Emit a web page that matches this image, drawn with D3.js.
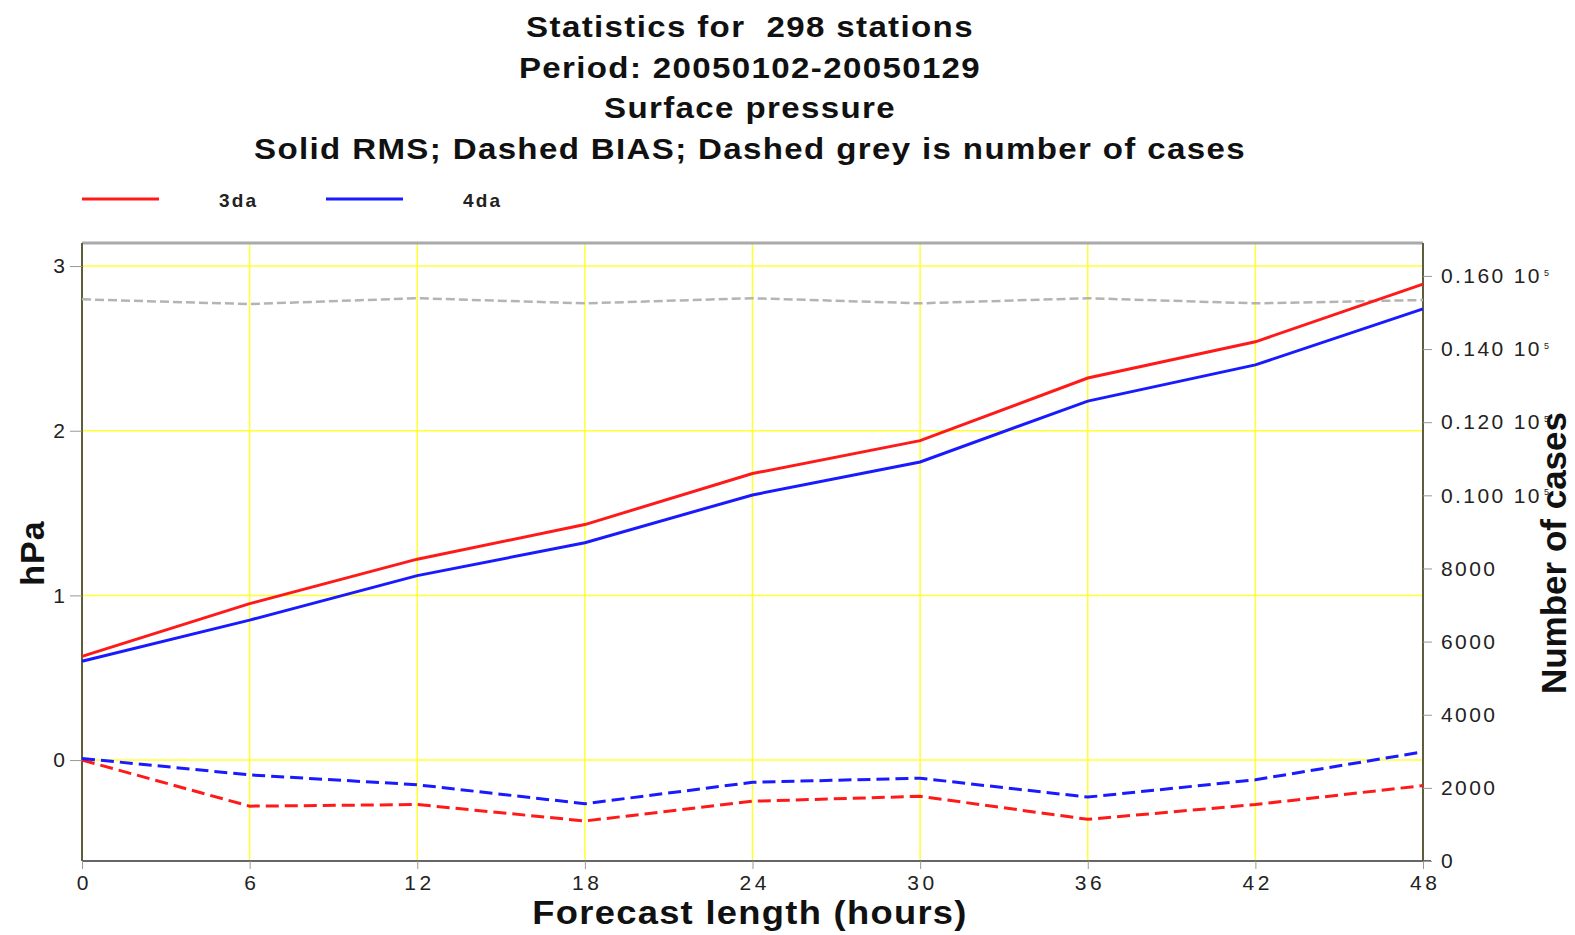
<!DOCTYPE html>
<html>
<head>
<meta charset="utf-8">
<script src="https://cdn.jsdelivr.net/npm/d3@7"></script>
<style>
  html, body { margin: 0; padding: 0; background: #fff; }
  svg { display: block; font-family: "Liberation Sans", Arial, Helvetica, sans-serif; }
  text { white-space: pre; }
</style>
</head>
<body>
<svg id="chart" width="1575" height="935"></svg>
<script>
// Forecast lengths (hours)
const hours = [0, 6, 12, 18, 24, 30, 36, 42, 48];

// RMS error (hPa)
const rms3da = [0.63, 0.95, 1.22, 1.43, 1.74, 1.94, 2.32, 2.54, 2.89];
const rms4da = [0.60, 0.85, 1.12, 1.32, 1.61, 1.81, 2.18, 2.40, 2.74];

// BIAS (hPa)
const bias3da = [0.00, -0.28, -0.27, -0.37, -0.25, -0.22, -0.36, -0.27, -0.155];
const bias4da = [0.01, -0.09, -0.15, -0.265, -0.135, -0.11, -0.225, -0.12, 0.05];

// Number of cases
const cases = [15360, 15230, 15390, 15250, 15390, 15250, 15390, 15250, 15340];

// Tick values
const xTicks = [0, 6, 12, 18, 24, 30, 36, 42, 48];
const yTicks = [0, 1, 2, 3];
const caseTicks = [0, 2000, 4000, 6000, 8000, 10000, 12000, 14000, 16000];

const titleLines = [
  "Statistics for  298 stations",
  "Period: 20050102-20050129",
  "Surface pressure",
  "Solid RMS; Dashed BIAS; Dashed grey is number of cases"
];

const seriesNames = ["3da", "4da"];
const seriesColors = ["#ff1a1a", "#1a1aff"];

const svg = d3.select("#chart");
const L = 82, R = 1423, T = 243, B = 861;

const x = d3.scaleLinear().domain([0, 48]).range([L, R]);
const y = d3.scaleLinear().domain([-0.613, 3.14]).range([B, T]);
const yc = d3.scaleLinear().domain([0, 16900]).range([B, T]);

// Title (wide bold lettering)
svg.append("g").selectAll("text").data(titleLines).join("text")
  .attr("transform", (d, i) => `translate(750,${37 + i * 40.6}) scale(1.14,1)`)
  .attr("text-anchor", "middle")
  .attr("font-size", 29).attr("font-weight", "bold").attr("fill", "#111")
  .attr("letter-spacing", 1.2)
  .text(d => d);

// Legend
const leg = svg.append("g");
seriesNames.forEach((name, i) => {
  const ox = 82 + i * 244;
  leg.append("line").attr("x1", ox).attr("x2", ox + 77).attr("y1", 199).attr("y2", 199)
    .attr("stroke", seriesColors[i]).attr("stroke-width", 3);
  leg.append("text").attr("x", ox + 137).attr("y", 207)
    .attr("font-size", 19).attr("font-weight", "bold").attr("fill", "#222")
    .attr("letter-spacing", 2.2)
    .text(name);
});

// Grid
const grid = svg.append("g").attr("stroke", "#ffff33").attr("stroke-width", 1.5);
grid.selectAll(".gx").data(xTicks.slice(1, -1)).join("line")
  .attr("x1", d => x(d)).attr("x2", d => x(d)).attr("y1", T).attr("y2", B);
grid.selectAll(".gy").data(yTicks).join("line")
  .attr("x1", L).attr("x2", R).attr("y1", d => y(d)).attr("y2", d => y(d));

// Frame
svg.append("line").attr("x1", L).attr("x2", R).attr("y1", T).attr("y2", T)
  .attr("stroke", "#aaaaaa").attr("stroke-width", 3);
svg.append("line").attr("x1", L).attr("x2", R + 8).attr("y1", B).attr("y2", B)
  .attr("stroke", "#666666").attr("stroke-width", 2);
svg.append("line").attr("x1", L).attr("x2", L).attr("y1", T).attr("y2", B)
  .attr("stroke", "#5e5e3c").attr("stroke-width", 2);
svg.append("line").attr("x1", R).attr("x2", R).attr("y1", T).attr("y2", B)
  .attr("stroke", "#5e5e3c").attr("stroke-width", 2);

// Axes
const tickFont = (spacing) => g => {
  g.select(".domain").remove();
  g.selectAll(".tick line").attr("stroke", "#999");
  g.selectAll(".tick text").attr("font-size", 21).attr("fill", "#222")
    .attr("font-family", "'Liberation Sans', Arial, sans-serif").attr("letter-spacing", spacing);
};

const xAxis = svg.append("g").attr("transform", `translate(0,${B})`)
  .call(d3.axisBottom(x).tickValues(xTicks).tickSize(8).tickPadding(6).tickFormat(d3.format("d")))
  .call(tickFont(3.5));
xAxis.selectAll(".tick text").attr("dx", 1.75);

svg.append("g").attr("transform", `translate(${L},0)`)
  .call(d3.axisLeft(y).tickValues(yTicks).tickSize(12).tickPadding(3).tickFormat(d3.format("d")))
  .call(tickFont(2));

const rAxis = svg.append("g").attr("transform", `translate(${R},0)`)
  .call(d3.axisRight(yc).tickValues(caseTicks).tickSize(9).tickPadding(9)
    .tickFormat(v => v < 10000 ? d3.format("d")(v) : (v / 1e5).toFixed(3) + " 10"))
  .call(tickFont(2.4));
rAxis.selectAll(".tick text").each(function(v) {
  if (v >= 10000) {
    d3.select(this).append("tspan").attr("dy", "-0.8em").attr("dx", 2)
      .attr("font-size", 9).text("5");
  }
});

// Axis titles
svg.append("text").attr("transform", "translate(44,553) rotate(-90)")
  .attr("text-anchor", "middle").attr("font-size", 34).attr("font-weight", "bold")
  .attr("fill", "#111").attr("letter-spacing", 1).text("hPa");
svg.append("text").attr("transform", "translate(750,924) scale(1.1,1)")
  .attr("text-anchor", "middle").attr("font-size", 33).attr("font-weight", "bold")
  .attr("fill", "#111").attr("letter-spacing", 1.2).text("Forecast length (hours)");
svg.append("text").attr("transform", "translate(1566,553) rotate(-90)")
  .attr("text-anchor", "middle").attr("font-size", 35).attr("font-weight", "bold")
  .attr("fill", "#111").text("Number of cases");

// Lines
const line = vals => d3.line().x((d, i) => x(hours[i])).y(d => y(d))(vals);
const caseLine = d3.line().x((d, i) => x(hours[i])).y(d => yc(d));

const plot = svg.append("g").attr("fill", "none");
plot.append("path").attr("d", caseLine(cases))
  .attr("stroke", "#b4b4b4").attr("stroke-width", 2.5).attr("stroke-dasharray", "9,4");

[[rms3da, bias3da], [rms4da, bias4da]].forEach(([rms, bias], i) => {
  plot.append("path").attr("d", line(rms))
    .attr("stroke", seriesColors[i]).attr("stroke-width", 3);
  plot.append("path").attr("d", line(bias))
    .attr("stroke", seriesColors[i]).attr("stroke-width", 3).attr("stroke-dasharray", "13,6");
});
</script>
</body>
</html>
